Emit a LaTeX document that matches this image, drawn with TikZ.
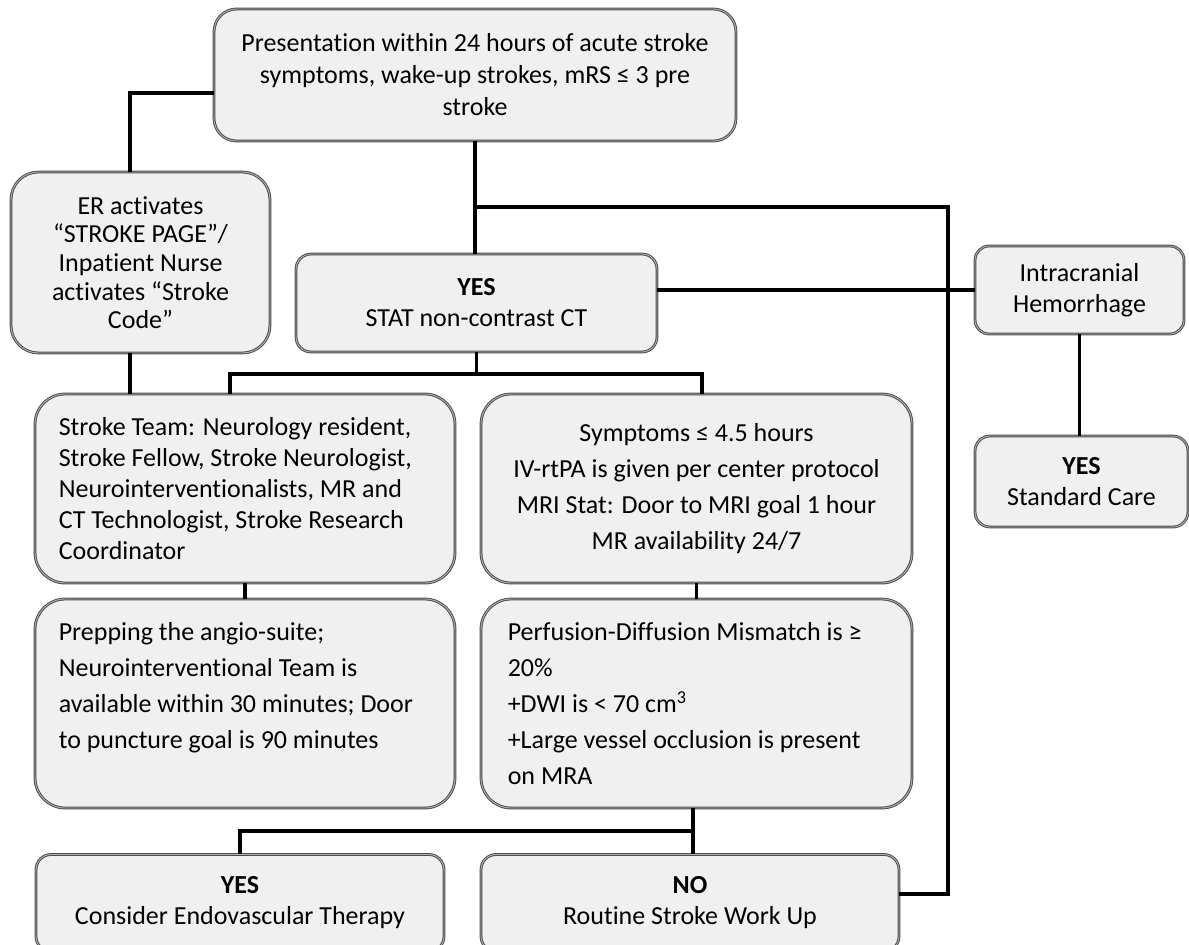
\documentclass[tikz,border=0pt]{standalone}
\usepackage{fontspec}
\setmainfont{Carlito}[Ligatures={NoCommon}]
\begin{document}
\begin{tikzpicture}[x=0.02cm,y=-0.02cm,
  box/.style={draw=black!70,double=black!30,double distance=0.5pt,line width=0.55pt,fill=black!6,
    rounded corners=0.6cm,align=center,inner sep=0pt,font=\fontsize{14.8}{17.6}\selectfont},
  tight/.style={box,rounded corners=0.3cm},
  wide/.style={box,font=\fontsize{14.8}{20.5}\selectfont},
  link/.style={line width=2pt}]
\useasboundingbox (0,0) rectangle (1189,944);
\node[box,minimum width=10.44cm,minimum height=2.64cm,rounded corners=0.45cm,font=\fontsize{14.8}{18.2}\selectfont] (pres) at (475,75)
  {Presentation within 24 hours of acute stroke\\symptoms, wake-up strokes, mRS ≤ 3 pre\\stroke};
\node[box,minimum width=5.18cm,minimum height=3.62cm,rounded corners=0.55cm,font=\fontsize{14.8}{16.3}\selectfont] (er) at (140.5,262.5)
  {ER activates\\“STROKE PAGE”/\\Inpatient Nurse\\activates “Stroke\\Code”};
\node[tight,minimum width=7.22cm,minimum height=1.96cm] (ct) at (476.5,303) {\textbf{YES}\\STAT non-contrast CT};
\node[tight,minimum width=4.18cm,minimum height=1.76cm,rounded corners=0.28cm] (ich) at (1079.5,290) {Intracranial\\Hemorrhage};
\node[tight,minimum width=4.26cm,minimum height=1.82cm] (std) at (1081.5,481.5) {\textbf{YES}\\Standard Care};
\node[box,minimum width=8.4cm,minimum height=3.78cm,text width=7.45cm,align=flush left] (team) at (245,488.5)
  {Stroke Team: Neurology resident,\\Stroke Fellow, Stroke Neurologist,\\Neurointerventionalists, MR and\\CT Technologist, Stroke Research\\Coordinator};
\node[wide,minimum width=8.62cm,minimum height=3.78cm] (sym) at (696.5,488.5)
  {Symptoms ≤ 4.5 hours\\IV-rtPA is given per center protocol\\MRI Stat: Door to MRI goal 1 hour\\MR availability 24/7};
\node[wide,minimum width=8.4cm,minimum height=4.18cm,text width=7.45cm,align=flush left] (prep) at (245,703.5)
  {Prepping the angio-suite;\\Neurointerventional Team is\\available within 30 minutes; Door\\to puncture goal is 90 minutes\\~};
\node[wide,minimum width=8.62cm,minimum height=4.18cm,text width=7.55cm,align=flush left] (perf) at (696.5,703.5)
  {Perfusion-Diffusion Mismatch is ≥\\20\%\\+DWI is < 70 cm\textsuperscript{3}\\+Large vessel occlusion is present\\on MRA};
\node[tight,minimum width=8.16cm,minimum height=1.94cm] (endo) at (240,903) {\textbf{YES}\\Consider Endovascular Therapy};
\node[tight,minimum width=8.36cm,minimum height=1.94cm] (no) at (690,903) {\textbf{NO}\\Routine Stroke Work Up};
\coordinate (bendER) at (130,93);
\coordinate (bendR) at (948,207);
\coordinate (bendNO) at (948,894);
\coordinate (splitL) at (230,374);
\coordinate (splitR) at (702,374);
\coordinate (splitB) at (693,831);
\draw[link] (pres.west |- bendER) -- (bendER) -- (er.north -| bendER);
\draw[link] (er.south -| bendER) -- (team.north -| bendER);
\draw[link] (pres.south) -- (pres.south |- ct.north);
\draw[link] (pres.south |- bendR) -- (bendR) -- (bendNO) -- (no.east |- bendNO);
\draw[link] (ct.east |- ich.west) -- (ich.west);
\draw[link] (ich.south) -- (ich.south |- std.north);
\draw[link] (ct.south) -- (ct.south |- splitL);
\draw[link] (team.north -| splitL) -- (splitL) -- (splitR) -- (sym.north -| splitR);
\draw[link] (team.south) -- (prep.north);
\draw[link] (sym.south) -- (perf.north);
\draw[link] (perf.south -| splitB) -- (no.north -| splitB);
\draw[link] (splitB) -| (endo.north);
\end{tikzpicture}
\end{document}
